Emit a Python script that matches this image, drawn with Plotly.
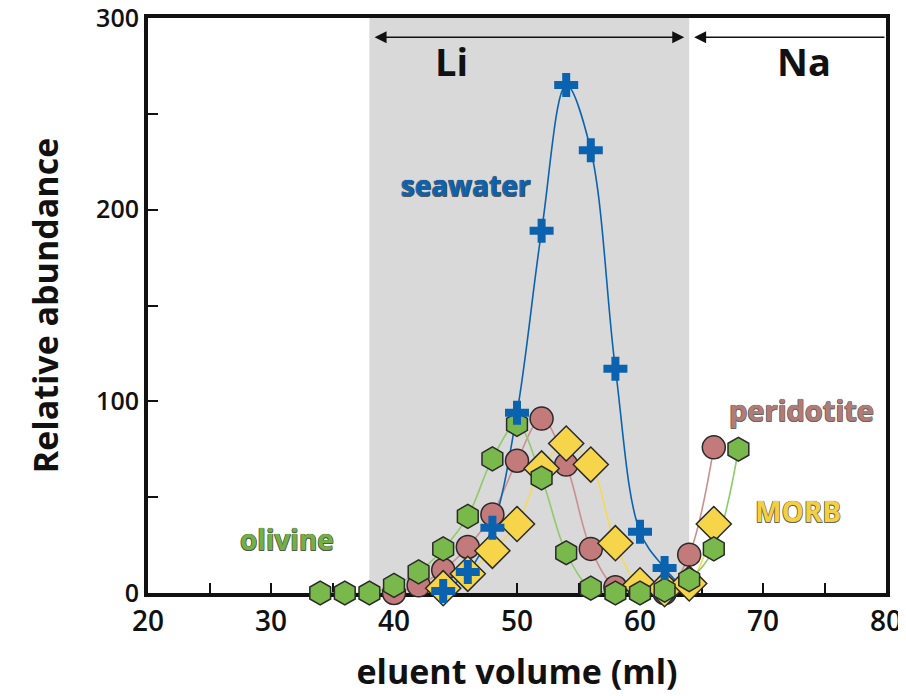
import plotly.graph_objects as go

# ---- data ----
sea_x = [44, 46, 48, 50, 52, 54, 56, 58, 60, 62, 64]
sea_y = [1, 11, 34, 94, 189, 265, 231, 117, 32, 13, -1]

oli_x = [34, 36, 38, 40, 42, 44, 46, 48, 50, 52, 54, 56, 58, 60, 62, 64, 66, 68]
oli_y = [0, 0, 0, 4, 11, 23, 40, 70, 88, 60, 21, 2.5, 0, 0, 1.5, 7, 23, 75]

per_x = [40, 42, 44, 46, 48, 50, 52, 54, 56, 58, 60, 62, 64, 66]
per_y = [0, 4, 12, 24, 41, 69, 91, 67, 23, 3, 1, 0, 20, 76]

morb_x = [42, 44, 46, 48, 50, 52, 54, 56, 58, 60, 62, 64, 66]
morb_y = [-1, 2.5, 10, 22, 36, 65, 78, 67, 26, 4, 2, 5, 36]

x_ticks = [20, 30, 40, 50, 60, 70, 80]
y_ticks = [0, 100, 200, 300]

li_band = [38, 64]

C_SEA = "#0b63b0"
C_OLI_F, C_OLI_L = "#79b84a", "#8fcb6a"
C_PER_F, C_PER_L = "#c27a7a", "#c99090"
C_MOR_F, C_MOR_L = "#f7d54a", "#f5da55"
EDGE = "#2a2a2a"

fig = go.Figure()

# lines first (beneath all markers)
for xs, ys, col in [(per_x, per_y, C_PER_L), (morb_x, morb_y, C_MOR_L),
                    (oli_x, oli_y, C_OLI_L), (sea_x, sea_y, C_SEA)]:
    fig.add_trace(go.Scatter(x=xs, y=ys, mode="lines", cliponaxis=False,
                             line=dict(color=col, width=1.6, shape="spline", smoothing=1),
                             hoverinfo="skip", showlegend=False))

fig.add_trace(go.Scatter(x=per_x, y=per_y, mode="markers", name="peridotite", cliponaxis=False,
                         marker=dict(symbol="circle", size=23, color=C_PER_F,
                                     line=dict(color=EDGE, width=1.5))))
fig.add_trace(go.Scatter(x=morb_x, y=morb_y, mode="markers", name="MORB", cliponaxis=False,
                         marker=dict(symbol="diamond", size=27, color=C_MOR_F,
                                     line=dict(color=EDGE, width=1.5))))
fig.add_trace(go.Scatter(x=oli_x, y=oli_y, mode="markers", name="olivine", cliponaxis=False,
                         marker=dict(symbol="hexagon", size=24, color=C_OLI_F,
                                     line=dict(color=EDGE, width=1.5))))
fig.add_trace(go.Scatter(x=sea_x, y=sea_y, mode="markers", name="seawater", cliponaxis=False,
                         marker=dict(symbol="cross", size=20, color=C_SEA,
                                     line=dict(width=0))))

# Li band
fig.add_shape(type="rect", x0=li_band[0], x1=li_band[1], y0=0, y1=300,
              xref="x", yref="y", fillcolor="#d9d9d9", line=dict(width=0), layer="below")

# arrows
fig.add_annotation(x=63.6, y=290, ax=38.3, ay=290, xref="x", yref="y", axref="x", ayref="y",
                   text="", showarrow=True, arrowhead=2, arrowside="end+start",
                   arrowsize=1.6, arrowwidth=1.5, arrowcolor="#111", standoff=0, startstandoff=0)
fig.add_annotation(x=64.4, y=290, ax=80, ay=290, xref="x", yref="y", axref="x", ayref="y",
                   text="", showarrow=True, arrowhead=2, arrowsize=1.6, arrowwidth=1.5,
                   arrowcolor="#111", standoff=0)

def outline(c):
    d = "0.5px"
    return (f"-{d} -{d} 0 {c}, {d} -{d} 0 {c}, -{d} {d} 0 {c}, {d} {d} 0 {c}, "
            f"0 0 1px {c}")

BOLD = "Open Sans"
labels = [
    ("Li", 44.7, 277.5, "#111111", 38, None),
    ("Na", 73.3, 277.5, "#111111", 38, None),
    ("seawater", 45.85, 213, C_SEA, 28, "#555"),
    ("peridotite", 73.1, 96, "#b37b75", 29, "#666"),
    ("MORB", 72.85, 43, "#f5d03c", 28, "#666"),
    ("olivine", 31.3, 28, "#72b043", 28, "#555"),
]
for t, x, y, c, s, oc in labels:
    f = dict(family=BOLD, size=s, color=c, weight=700)
    if oc:
        f["shadow"] = outline(oc)
    fig.add_annotation(x=x, y=y, xref="x", yref="y", text=t, showarrow=False,
                       font=f, xanchor="center", yanchor="middle")

# the page body adds an 8px offset; margins compensate so the plot area sits at 148..886 x 18..593
fig.update_layout(
    width=906, height=696,
    margin=dict(l=140, r=28, t=10, b=111),
    plot_bgcolor="white", paper_bgcolor="white",
    showlegend=False,
    xaxis=dict(range=[20, 80], tickvals=x_ticks, ticks="inside", ticklen=10, tickwidth=2,
               tickcolor="#111", showgrid=False, zeroline=False, automargin=False,
               ticklabeloverflow="allow", layer="below traces",
               showline=True, linecolor="#111", linewidth=4, mirror=True,
               tickfont=dict(family="Open Sans", size=28, color="#111", weight=600),
               minor=dict(dtick=5, ticks="inside", ticklen=10, tickwidth=2, tickcolor="#111"),
               title=dict(text="eluent volume (ml)", standoff=24,
                          font=dict(family=BOLD, size=34, color="#111", weight=700))),
    yaxis=dict(range=[0, 300], tickvals=y_ticks, ticks="inside", ticklen=10, tickwidth=2,
               tickcolor="#111", showgrid=False, zeroline=False, automargin=False,
               ticklabeloverflow="allow", layer="below traces",
               showline=True, linecolor="#111", linewidth=4, mirror=True,
               tickfont=dict(family="Open Sans", size=25, color="#111", weight=600),
               minor=dict(dtick=50, ticks="inside", ticklen=10, tickwidth=2, tickcolor="#111"),
               title=dict(text="Relative abundance", standoff=28,
                          font=dict(family=BOLD, size=34, color="#111", weight=700))),
)

fig.write_html("out.html")
